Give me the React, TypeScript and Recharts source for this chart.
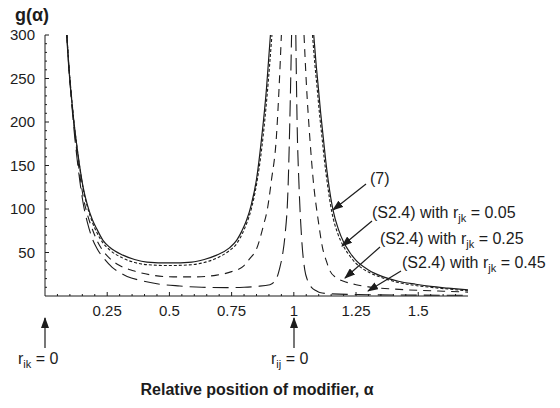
import { LineChart, Line, XAxis, YAxis } from 'recharts';

// alpha positions and g(alpha) values; null marks the gap at the spike
const solidAlpha = [0.087, 0.095, 0.105, 0.115, 0.127, 0.14, 0.154, 0.17, 0.19, 0.21, 0.233, 0.26, 0.313, 0.36, 0.41, 0.5, 0.59, 0.64, 0.69, 0.74, 0.77, 0.79, 0.81, 0.83, 0.85, 0.87, 0.89, 0.906, 0.99, 1.08, 1.09, 1.098, 1.108, 1.118, 1.128, 1.138, 1.158, 1.18, 1.2, 1.225, 1.25, 1.3, 1.36, 1.42, 1.49, 1.55, 1.62, 1.7];
const solidG = [300, 265, 232, 203, 175, 148, 124, 105, 88, 76, 64, 56, 47, 42, 39, 38, 39, 42, 47, 55, 64, 74, 87, 106, 134, 180, 238, 300, null, 300, 265, 241, 210, 183, 156, 133, 98, 76, 62, 50, 41, 30, 22, 17, 13.5, 11, 9, 7];

const r05Alpha = [0.088, 0.096, 0.106, 0.116, 0.128, 0.141, 0.155, 0.17, 0.19, 0.21, 0.233, 0.26, 0.313, 0.36, 0.41, 0.5, 0.59, 0.64, 0.69, 0.74, 0.77, 0.79, 0.81, 0.83, 0.85, 0.872, 0.893, 0.912, 0.99, 1.075, 1.085, 1.093, 1.103, 1.113, 1.123, 1.133, 1.153, 1.175, 1.2, 1.225, 1.25, 1.3, 1.36, 1.42, 1.49, 1.55, 1.62, 1.7];
const r05G = [300, 265, 231, 201, 172, 145, 121, 103, 85, 72, 61, 53, 43.5, 38.5, 36, 35, 36, 38.5, 43.5, 52, 60, 70, 83, 101, 128, 172, 232, 300, null, 300, 265, 241, 210, 183, 156, 133, 96, 73, 57, 46, 37.5, 27.5, 20.5, 15.5, 12, 10, 8, 6];

const r25Alpha = [0.088, 0.096, 0.106, 0.116, 0.128, 0.141, 0.155, 0.17, 0.19, 0.21, 0.233, 0.261, 0.3, 0.355, 0.42, 0.515, 0.6, 0.69, 0.75, 0.8, 0.823, 0.85, 0.877, 0.895, 0.91, 0.93, 0.941, 0.95, 0.995, 1.041, 1.051, 1.064, 1.078, 1.098, 1.115, 1.131, 1.145, 1.17, 1.2, 1.25, 1.3, 1.4, 1.5, 1.6, 1.7];
const r25G = [300, 264, 229, 198, 166, 137, 112, 94, 77, 63, 52, 43, 35, 29, 24.5, 22, 22, 24, 28, 35, 43, 54, 80, 102, 133, 183, 241, 300, null, 300, 241, 183, 133, 87, 56, 40, 29, 21, 17, 13, 10.5, 8, 6.5, 5.5, 4.5];

const r45Alpha = [0.088, 0.096, 0.106, 0.116, 0.128, 0.141, 0.155, 0.17, 0.19, 0.21, 0.24, 0.27, 0.3, 0.33, 0.382, 0.45, 0.542, 0.63, 0.73, 0.8, 0.85, 0.904, 0.93, 0.944, 0.955, 0.964, 0.977, 0.984, 0.991, 0.999, 1.008, 1.013, 1.021, 1.031, 1.044, 1.055, 1.071, 1.09, 1.104, 1.15, 1.3, 1.5, 1.7];
const r45G = [300, 262, 226, 193, 160, 130, 104, 85, 66, 54, 42, 33, 27, 22.5, 18, 14, 11.5, 10, 9.6, 10, 11, 13, 20, 33, 48, 68, 126, 202, 300, null, 300, 202, 126, 68, 30, 18, 10, 6, 4, 2.5, 1.5, 1, 0.8];

const xTicks = Array.from({ length: 33 }, (_, i) => +((i + 1) * 0.05).toFixed(2));
const yTicks = Array.from({ length: 30 }, (_, i) => (i + 1) * 10);

const zip = (a: number[], g: (number | null)[]) => a.map((x, i) => ({ a: x, g: g[i] }));

const FONT = '"Liberation Sans", Arial, Helvetica, sans-serif';
const INK = '#1c1c1c';

const isMajorX = (v: number) => Math.abs(v / 0.25 - Math.round(v / 0.25)) < 1e-6;

const XTick = ({ x, y, payload }: any) => {
  const v = payload.value;
  const major = isMajorX(v);
  return (
    <g>
      <line x1={x} x2={x} y1={y} y2={y - (major ? 4 : 2)} stroke={INK} strokeWidth={1} />
      {major && (
        <text x={x} y={y + 20} textAnchor="middle" fontSize={15} fontFamily={FONT} fill={INK}>
          {String(v)}
        </text>
      )}
    </g>
  );
};

const YTick = ({ x, y, payload }: any) => {
  const v = payload.value;
  const major = v % 50 === 0;
  return (
    <g>
      <line x1={x} x2={x + (major ? 4 : 2)} y1={y} y2={y} stroke={INK} strokeWidth={1} />
      {major && (
        <text x={x - 10} y={y + 5} textAnchor="end" fontSize={15} fontFamily={FONT} fill={INK}>
          {String(v)}
        </text>
      )}
    </g>
  );
};

const Sub = ({ x, y, main, sub, rest }: { x: number; y: number; main: string; sub: string; rest: string }) => (
  <text x={x} y={y} fontSize={16} fontFamily={FONT} fill={INK}>
    {main}
    <tspan fontSize={11} dy={4}>{sub}</tspan>
    <tspan dy={-4}>{rest}</tspan>
  </text>
);

export default function App() {
  return (
    <div style={{ position: 'absolute', left: 0, top: 0, width: 560, height: 408, background: '#fff' }}>
      <LineChart width={560} height={408} margin={{ top: 35, right: 92, bottom: 82, left: 5 }}>
        <XAxis
          type="number"
          dataKey="a"
          domain={[0, 1.7]}
          ticks={xTicks}
          interval={0}
          allowDataOverflow
          tickLine={false}
          tickSize={0}
          tickMargin={0}
          tick={<XTick />}
          axisLine={{ stroke: INK, strokeWidth: 1.2 }}
          height={30}
        />
        <YAxis
          type="number"
          domain={[0, 300]}
          ticks={yTicks}
          interval={0}
          allowDataOverflow
          tickLine={false}
          tickSize={0}
          tickMargin={0}
          tick={<YTick />}
          axisLine={{ stroke: INK, strokeWidth: 1 }}
          width={40}
        />
        <Line data={zip(r45Alpha, r45G)} dataKey="g" type="monotone" stroke={INK} strokeWidth={1.1} strokeDasharray="16 7" dot={false} isAnimationActive={false} />
        <Line data={zip(r25Alpha, r25G)} dataKey="g" type="monotone" stroke={INK} strokeWidth={1.1} strokeDasharray="8 6" dot={false} isAnimationActive={false} />
        <Line data={zip(r05Alpha, r05G)} dataKey="g" type="monotone" stroke={INK} strokeWidth={1.1} strokeDasharray="3 2" dot={false} isAnimationActive={false} />
        <Line data={zip(solidAlpha, solidG)} dataKey="g" type="monotone" stroke={INK} strokeWidth={1.2} dot={false} isAnimationActive={false} />
      </LineChart>

      <svg width={560} height={408} style={{ position: 'absolute', left: 0, top: 0, pointerEvents: 'none' }}>
        <defs>
          <marker id="ah" markerWidth={11} markerHeight={8} refX={10} refY={4} orient="auto" markerUnits="userSpaceOnUse">
            <path d="M0,0 L11,4 L0,8 z" fill={INK} />
          </marker>
        </defs>

        <text x={15} y={21} fontSize={18} fontWeight="bold" fontFamily={FONT} fill={INK}>g(α)</text>

        <text x={370} y={184} fontSize={16} fontFamily={FONT} fill={INK}>(7)</text>
        <line x1={366} y1={184} x2={333} y2={210} stroke={INK} strokeWidth={1.2} markerEnd="url(#ah)" />

        <Sub x={372} y={218} main="(S2.4) with r" sub="jk" rest=" = 0.05" />
        <line x1={372} y1={221} x2={342} y2={246} stroke={INK} strokeWidth={1.2} markerEnd="url(#ah)" />

        <Sub x={380} y={244} main="(S2.4) with r" sub="jk" rest=" = 0.25" />
        <line x1={380} y1={247} x2={345} y2={278} stroke={INK} strokeWidth={1.2} markerEnd="url(#ah)" />

        <Sub x={402} y={268} main="(S2.4) with r" sub="jk" rest=" = 0.45" />
        <line x1={401} y1={271} x2={368} y2={291} stroke={INK} strokeWidth={1.2} markerEnd="url(#ah)" />

        <line x1={45} y1={348} x2={45} y2={318} stroke={INK} strokeWidth={1.2} markerEnd="url(#ah)" />
        <Sub x={18} y={364} main="r" sub="ik" rest=" = 0" />

        <line x1={294} y1={348} x2={294} y2={318} stroke={INK} strokeWidth={1.2} markerEnd="url(#ah)" />
        <Sub x={271} y={364} main="r" sub="ij" rest=" = 0" />

        <text x={257} y={395} textAnchor="middle" fontSize={16} fontWeight="bold" fontFamily={FONT} fill={INK}>
          Relative position of modifier, α
        </text>
      </svg>
    </div>
  );
}
